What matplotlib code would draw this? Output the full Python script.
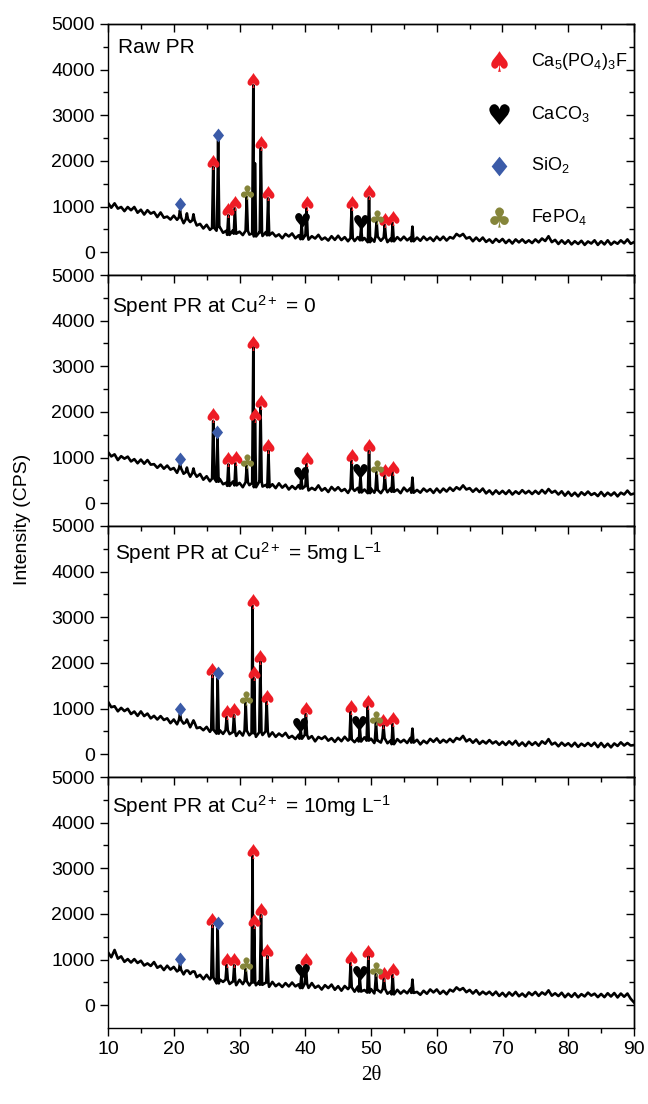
import numpy as np
import matplotlib
matplotlib.use('Agg')
import matplotlib.pyplot as plt
from matplotlib.path import Path
from matplotlib.textpath import TextPath
from matplotlib.font_manager import FontProperties

plt.rcParams['font.family'] = 'Liberation Sans'
plt.rcParams['mathtext.fontset'] = 'custom'
plt.rcParams['mathtext.rm'] = 'Liberation Sans'
plt.rcParams['mathtext.it'] = 'Liberation Sans:italic'
plt.rcParams['mathtext.bf'] = 'Liberation Sans:bold'
plt.rcParams['axes.linewidth'] = 1.0

# 2theta grid of the background readings (0.5 deg steps, 10 -> 90)
two_theta = np.arange(10, 90.01, 0.5)

panel_names = [
    'Raw PR',
    r'Spent PR at Cu$^{2+}$ = 0',
    r'Spent PR at Cu$^{2+}$ = 5mg L$^{-1}$',
    r'Spent PR at Cu$^{2+}$ = 10mg L$^{-1}$',
]

# noisy background (CPS)
base_raw = [1080, 975, 1070, 955, 990, 900, 990, 920, 990, 865,
            930, 825, 920, 845, 880, 770, 870, 755, 780, 715,
            800, 710, 760, 635, 720, 660, 700, 585, 620, 520,
            600, 490, 530, 470, 550, 425, 470, 380, 480, 405,
            450, 375, 470, 385, 410, 345, 430, 355, 440, 370,
            430, 345, 390, 305, 400, 345, 410, 305, 370, 285,
            370, 275, 350, 300, 380, 275, 320, 255, 350, 270,
            360, 265, 330, 240, 310, 245, 330, 260, 310, 220,
            310, 230, 340, 250, 320, 220, 300, 240, 330, 260,
            340, 260, 320, 240, 320, 250, 340, 265, 320, 245,
            340, 265, 340, 255, 330, 300, 400, 350, 400, 300,
            330, 240, 320, 245, 320, 225, 280, 205, 290, 225,
            290, 200, 270, 190, 280, 215, 280, 205, 260, 200,
            280, 215, 300, 245, 350, 220, 270, 180, 260, 185,
            260, 170, 240, 180, 250, 160, 235, 190, 260, 160,
            240, 170, 260, 165, 230, 185, 260, 195, 280, 185,
            220]
base_cu0 = [1120, 1025, 1070, 945, 1030, 975, 1020, 915, 965, 875,
            955, 865, 945, 845, 855, 775, 845, 755, 825, 735,
            770, 665, 760, 645, 680, 580, 660, 580, 640, 515,
            590, 480, 540, 470, 530, 415, 450, 380, 475, 390,
            445, 350, 460, 395, 445, 350, 470, 365, 400, 350,
            415, 330, 435, 340, 405, 300, 375, 310, 395, 320,
            375, 280, 335, 290, 390, 275, 330, 245, 355, 280,
            350, 265, 310, 225, 320, 270, 335, 235, 300, 220,
            320, 230, 290, 220, 310, 240, 330, 250, 300, 220,
            340, 260, 330, 230, 290, 230, 320, 255, 310, 225,
            320, 235, 320, 255, 340, 270, 350, 300, 390, 300,
            330, 250, 320, 245, 320, 215, 280, 195, 280, 205,
            270, 200, 280, 190, 260, 205, 285, 215, 270, 200,
            270, 205, 290, 215, 310, 230, 270, 190, 260, 165,
            250, 160, 230, 150, 240, 180, 255, 180, 220, 155,
            245, 155, 230, 170, 235, 150, 230, 190, 275, 190,
            210]
base_cu5 = [1150, 1030, 1050, 940, 1015, 945, 995, 880, 935, 840,
            937, 835, 890, 785, 840, 760, 835, 750, 785, 680,
            760, 655, 750, 670, 700, 590, 690, 570, 590, 525,
            598, 490, 535, 450, 525, 445, 525, 440, 485, 400,
            500, 408, 516, 414, 462, 380, 480, 420, 498, 388,
            478, 380, 452, 394, 466, 358, 400, 332, 425, 340,
            424, 340, 396, 282, 378, 334, 390, 296, 352, 270,
            359, 285, 381, 298, 325, 263, 351, 279, 368, 297,
            340, 245, 300, 255, 350, 240, 300, 220, 330, 260,
            315, 245, 355, 255, 315, 215, 295, 240, 335, 270,
            345, 250, 315, 260, 335, 265, 355, 320, 400, 280,
            330, 250, 322, 226, 290, 235, 310, 235, 280, 205,
            272, 202, 282, 212, 292, 188, 256, 178, 272, 202,
            262, 186, 282, 228, 330, 212, 252, 172, 252, 186,
            240, 170, 250, 160, 230, 180, 245, 180, 250, 155,
            245, 155, 230, 150, 235, 180, 260, 190, 245, 190,
            200]
base_cu10 = [1160, 1050, 1210, 1020, 1070, 950, 1010, 935, 1010, 925,
             974, 870, 915, 860, 945, 820, 865, 770, 865, 780,
             839, 740, 772, 675, 755, 685, 735, 615, 665, 570,
             665, 565, 605, 478, 562, 510, 560, 465, 520, 438,
             556, 462, 528, 434, 500, 436, 522, 448, 494, 402,
             510, 416, 472, 398, 484, 410, 496, 412, 458, 375,
             473, 379, 485, 381, 427, 343, 439, 375, 451, 338,
             416, 318, 420, 352, 394, 296, 408, 300, 332, 276,
             353, 258, 334, 280, 356, 252, 300, 238, 336, 254,
             320, 260, 360, 270, 290, 228, 316, 250, 345, 280,
             345, 250, 315, 240, 340, 300, 390, 330, 375, 285,
             335, 255, 328, 232, 296, 240, 295, 220, 296, 202,
             270, 190, 280, 210, 290, 196, 254, 186, 280, 220,
             290, 204, 280, 232, 325, 208, 260, 200, 272, 176,
             252, 182, 262, 172, 242, 192, 275, 210, 252, 176,
             246, 176, 262, 190, 266, 170, 255, 185, 255, 140,
             60]
backgrounds = [base_raw, base_cu0, base_cu5, base_cu10]

# diffraction peaks: (2theta, peak top in CPS)
peaks_raw = [(20.95, 920), (22.0, 850), (23.0, 830), (26.0, 1870), (26.75, 2450),
             (28.3, 810), (29.3, 960), (31.1, 1210), (32.1, 3660), (32.35, 1950),
             (33.25, 2280), (34.35, 1180), (39.45, 600), (40.2, 960), (47.05, 960),
             (48.5, 550), (49.7, 1200), (50.85, 680), (52.1, 600), (53.3, 640),
             (56.3, 560)]
peaks_cu0 = [(20.95, 850), (22.0, 780), (23.0, 760), (26.0, 1800), (26.65, 1450),
             (28.3, 850), (29.4, 870), (31.1, 820), (32.1, 3420), (32.35, 1820),
             (33.2, 2100), (34.4, 1150), (39.4, 560), (40.2, 860), (47.05, 930),
             (48.4, 600), (49.7, 1150), (50.85, 680), (52.1, 610), (53.3, 680),
             (56.3, 560)]
peaks_cu5 = [(20.95, 880), (22.0, 760), (23.0, 740), (25.87, 1730), (26.68, 1660),
             (28.05, 820), (29.16, 860), (30.94, 1130), (32.0, 3250), (32.22, 1660),
             (33.17, 2030), (34.13, 1150), (39.3, 540), (40.1, 880), (46.9, 930),
             (48.3, 590), (49.5, 1050), (50.76, 700), (51.9, 630), (53.3, 660),
             (56.3, 560)]
peaks_cu10 = [(20.95, 900), (22.0, 760), (23.0, 740), (25.87, 1750), (26.68, 1690),
              (28.05, 880), (29.2, 880), (30.94, 790), (32.0, 3270), (32.22, 1720),
              (33.27, 1980), (34.23, 1080), (39.4, 640), (40.1, 880), (46.9, 920),
              (48.3, 600), (49.6, 1070), (50.76, 680), (51.97, 590), (53.3, 660),
              (56.3, 560)]
peak_lists = [peaks_raw, peaks_cu0, peaks_cu5, peaks_cu10]

# phase labels: (2theta, CPS) of each symbol
apatite = [
    [(26.0, 1980), (28.3, 920), (29.3, 1070), (32.1, 3770), (33.27, 2390), (34.4, 1290),
     (40.2, 1070), (47.06, 1070), (49.7, 1320), (52.13, 700), (53.3, 740)],
    [(26.0, 1930), (28.3, 963), (29.45, 990), (32.1, 3520), (32.35, 1930), (33.2, 2210),
     (34.4, 1257), (40.2, 963), (47.05, 1040), (49.7, 1257), (52.1, 708), (53.3, 780)],
    [(25.87, 1842), (28.05, 927), (29.16, 971), (32.0, 3360), (32.2, 1776), (33.17, 2140),
     (34.13, 1256), (40.1, 987), (46.9, 1037), (49.5, 1154), (51.9, 730), (53.3, 767)],
    [(25.87, 1864), (28.05, 987), (29.2, 987), (32.0, 3382), (32.2, 1834), (33.27, 2090),
     (34.23, 1190), (40.1, 987), (46.9, 1030), (49.6, 1175), (51.97, 693), (53.3, 767)],
]
calcite = [
    [(39.46, 700), (48.48, 660)],
    [(39.3, 635), (48.33, 710)],
    [(39.2, 635), (48.2, 693)],
    [(39.46, 752), (48.33, 708)],
]
quartz = [
    [(20.95, 1050), (26.78, 2570)],
    [(20.9, 963), (26.63, 1550)],
    [(20.9, 987), (26.68, 1776)],
    [(20.9, 1009), (26.68, 1798)],
]
fepo4 = [
    [(31.1, 1320), (50.86, 775)],
    [(31.1, 928), (50.85, 800)],
    [(30.94, 1240), (50.76, 800)],
    [(30.94, 899), (50.76, 790)],
]

phase_labels = [r'Ca$_5$(PO$_4$)$_3$F', r'CaCO$_3$', r'SiO$_2$', r'FePO$_4$']


def glyph_marker(ch):
    # centred outline of a DejaVu glyph, usable as a scatter marker
    p = TextPath((0, 0), ch, prop=FontProperties(family='DejaVu Sans'))
    ext = p.get_extents()
    v = p.vertices.copy()
    v[:, 0] -= (ext.x0 + ext.x1) / 2
    v[:, 1] -= (ext.y0 + ext.y1) / 2
    v[p.codes == Path.CLOSEPOLY] = 0
    return Path(v, p.codes)


spade = glyph_marker('\u2660')
heart = glyph_marker('\u2665')
club = glyph_marker('\u2663')
diamond = Path([(0, 0.5), (0.4, 0), (0, -0.5), (-0.4, 0), (0, 0.5)],
               [Path.MOVETO, Path.LINETO, Path.LINETO, Path.LINETO, Path.CLOSEPOLY])

styles = [
    (apatite, spade, '#ee1c25', 115),
    (calcite, heart, 'black', 115),
    (quartz, diamond, '#3b5ba8', 100),
    (fepo4, club, '#85853a', 105),
]


def trace(base, peaks, w=0.17):
    pos = np.array([p[0] for p in peaks])
    pts = [(t, b) for t, b in zip(two_theta, base) if np.min(np.abs(t - pos)) > w]
    for x0, top in peaks:
        b = base[int(round((x0 - 10) / 0.5))]
        pts += [(x0 - w, b), (x0, top), (x0 + w, b)]
    pts.sort()
    return [p[0] for p in pts], [p[1] for p in pts]


fig = plt.figure(figsize=(6.48, 11.04), dpi=100)
left, width = 108 / 648, 526 / 648
ph = 251 / 1104
label_pos = [(0.019, 0.884), (0.008, 0.849), (0.013, 0.865), (0.008, 0.857)]

for i in range(4):
    ax = fig.add_axes([left, 1 - (24 + 251 * (i + 1)) / 1104, width, ph])
    x, y = trace(backgrounds[i], peak_lists[i])
    ax.plot(x, y, color='black', lw=1.9)

    handles = []
    for data, mk, col, s in styles:
        pts = data[i]
        h = ax.scatter([p[0] for p in pts], [p[1] for p in pts], marker=mk,
                       color=col, s=s, linewidths=0, zorder=3)
        handles.append(h)

    ax.set_xlim(10, 90)
    ax.set_ylim(-500, 5000)
    ax.set_xticks(range(10, 91, 10))
    ax.set_xticks(range(15, 90, 10), minor=True)
    ax.set_yticks(range(0, 5001, 1000))
    ax.set_yticks(range(500, 5000, 1000), minor=True)
    ax.tick_params(which='major', direction='out', length=6, width=1.0, labelsize=14)
    ax.tick_params(which='minor', direction='out', length=3.5, width=1.0)
    if i < 3:
        ax.tick_params(axis='x', labelbottom=False)

    top = ax.secondary_xaxis('top')
    top.set_xticks(range(10, 91, 10))
    top.set_xticks(range(15, 90, 10), minor=True)
    top.tick_params(which='both', direction='in', labeltop=False, width=1.0)
    top.tick_params(which='major', length=6)
    top.tick_params(which='minor', length=3.5)
    right = ax.secondary_yaxis('right')
    right.set_yticks(range(0, 5001, 1000))
    right.set_yticks(range(500, 5000, 1000), minor=True)
    right.tick_params(which='both', direction='in', labelright=False, width=1.0)
    right.tick_params(which='major', length=6)
    right.tick_params(which='minor', length=3.5)

    lx, ly = label_pos[i]
    ax.text(lx, ly, panel_names[i], transform=ax.transAxes, fontsize=15,
            ha='left', va='baseline')

    if i == 0:
        leg = ax.legend(handles, phase_labels, loc='center left',
                        bbox_to_anchor=(0.726, 0.542), frameon=False, fontsize=13,
                        handlelength=1.0, handletextpad=1.3, labelspacing=1.75,
                        borderpad=0, borderaxespad=0, scatterpoints=1)
        for h, s in zip(leg.legend_handles, [220, 220, 200, 210]):
            h.set_sizes([s])

fig.text(0.034, 0.53, 'Intensity (CPS)', rotation=90, ha='center', va='center',
         fontsize=14)
fig.text(0.573, 0.026, '2\u03b8', family='Liberation Serif', ha='center',
         va='center', fontsize=15)

plt.savefig('out.png', dpi=100)
